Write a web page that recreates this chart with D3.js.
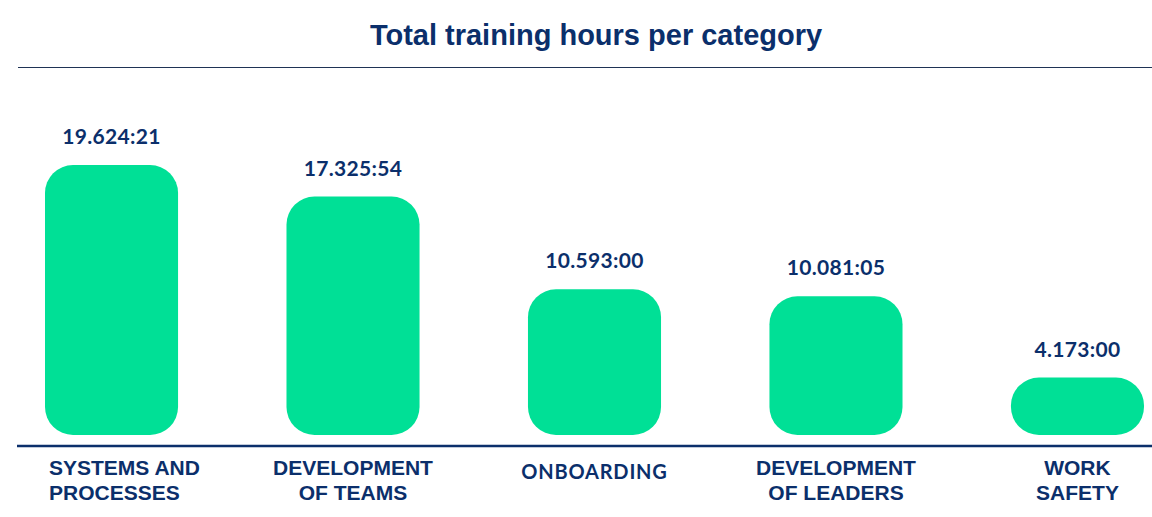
<!DOCTYPE html>
<html>
<head>
<meta charset="utf-8">
<script src="https://cdn.jsdelivr.net/npm/d3@7"></script>
<style>
  html, body { margin: 0; padding: 0; background: #fff; }
  svg { display: block; }
</style>
</head>
<body>
<div id="chart"></div>
<script>
// chart data
var categories = [
    ["SYSTEMS AND", "PROCESSES"],
    ["DEVELOPMENT", "OF TEAMS"],
    ["ONBOARDING"],
    ["DEVELOPMENT", "OF LEADERS"],
    ["WORK", "SAFETY"]
];
var hours = [19624, 17325, 10593, 10081, 4173];
var minutes = [21, 54, 0, 5, 0];

const width = 1152;
const height = 517;
const navy = "#0b2f6b";
const green = "#00e096";

var fmt = d3.formatLocale({decimal: ",", thousands: ".", grouping: [3], currency: ["", ""]}).format(",d");
var pad = d3.format("02d");

var data = categories.map(function(c, i) {
    return {name: c, value: hours[i] + minutes[i] / 60, label: fmt(hours[i]) + ":" + pad(minutes[i])};
});

const svg = d3.select("#chart").append("svg")
    .attr("width", width)
    .attr("height", height);

// title + rule under it
svg.append("text")
    .attr("x", 596)
    .attr("y", 45)
    .attr("text-anchor", "middle")
    .attr("fill", navy)
    .style("font", "bold 29px 'Liberation Sans', Arial, sans-serif")
    .text("Total training hours per category");

svg.append("line")
    .attr("x1", 18).attr("x2", width)
    .attr("y1", 67.5).attr("y2", 67.5)
    .attr("stroke", "#1f3355")
    .attr("stroke-width", 1.2);

var x = d3.scaleBand()
    .domain(d3.range(data.length))
    .range([45, 1144])
    .paddingInner(0.449)
    .paddingOuter(0);

var y = d3.scaleLinear()
    .domain([0, d3.max(data, d => d.value)])
    .range([435, 165]);

// bars (rounded)
svg.append("g")
    .selectAll("rect")
    .data(data)
    .join("rect")
    .attr("x", (d, i) => x(i))
    .attr("y", d => y(d.value))
    .attr("width", x.bandwidth())
    .attr("height", d => y(0) - y(d.value))
    .attr("rx", d => Math.min(28, (y(0) - y(d.value)) / 2))
    .attr("fill", green);

// value labels
svg.append("g")
    .selectAll("text")
    .data(data)
    .join("text")
    .attr("x", (d, i) => x(i) + x.bandwidth() / 2)
    .attr("y", d => y(d.value) - 21)
    .attr("text-anchor", "middle")
    .attr("fill", navy)
    .style("font", "bold 21px Lato, 'Open Sans', sans-serif")
    .style("letter-spacing", "0.3px")
    .text(d => d.label);

// axis line
svg.append("line")
    .attr("x1", 17).attr("x2", width)
    .attr("y1", 446).attr("y2", 446)
    .attr("stroke", navy)
    .attr("stroke-width", 2.5);

// category labels
var cat = svg.append("g")
    .selectAll("text")
    .data(data)
    .join("text")
    .attr("text-anchor", (d, i) => i === 0 ? "start" : "middle")
    .attr("fill", navy)
    .style("font", d => d.name.length === 1 ? "bold 20px Lato, sans-serif" : "bold 21px 'Liberation Sans', Arial, sans-serif")
    .style("letter-spacing", d => d.name.length === 1 ? "0.8px" : null);

cat.each(function(d, i) {
    var t = d3.select(this);
    var cx = i === 0 ? 49 : x(i) + x.bandwidth() / 2;
    if (d.name.length === 1) {
        t.append("tspan").attr("x", cx).attr("y", 479).text(d.name[0]);
    } else {
        d.name.forEach(function(line, j) {
            t.append("tspan").attr("x", cx).attr("y", 475 + j * 25).text(line);
        });
    }
});
</script>
</body>
</html>
